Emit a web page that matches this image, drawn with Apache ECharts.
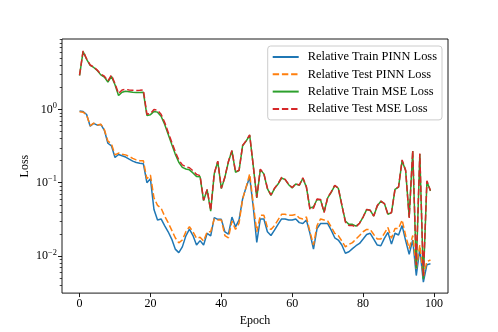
<!DOCTYPE html>
<html>
<head>
<meta charset="utf-8">
<script src="https://cdn.jsdelivr.net/npm/echarts@6/dist/echarts.min.js"></script>
<style>
html,body{margin:0;padding:0;background:#fff;}
#chart{width:498px;height:332px;}
</style>
</head>
<body>
<div id="chart"></div>
<script>
const epochs = [0,1,2,3,4,5,6,7,8,9,10,11,12,13,14,15,16,17,18,19,20,21,22,23,24,25,26,27,28,29,30,31,32,33,34,35,36,37,38,39,40,41,42,43,44,45,46,47,48,49,50,51,52,53,54,55,56,57,58,59,60,61,62,63,64,65,66,67,68,69,70,71,72,73,74,75,76,77,78,79,80,81,82,83,84,85,86,87,88,89,90,91,92,93,94,95,96,97,98,99];

const trainPinn = [0.95,0.94,0.855,0.59,0.645,0.61,0.625,0.52,0.346,0.319,0.221,0.243,0.233,0.224,0.21,0.197,0.189,0.184,0.182,0.1,0.113,0.043,0.031,0.032,0.026,0.0214,0.017,0.0124,0.0111,0.0133,0.0188,0.0232,0.019,0.0141,0.0162,0.0141,0.0204,0.0188,0.0334,0.0316,0.0316,0.0214,0.0199,0.034,0.025,0.031,0.06,0.087,0.119,0.047,0.0153,0.032,0.032,0.0214,0.019,0.0225,0.027,0.032,0.032,0.031,0.031,0.032,0.0285,0.0277,0.031,0.0204,0.0124,0.0237,0.0277,0.0277,0.0277,0.0225,0.0177,0.0165,0.0141,0.0109,0.0114,0.0126,0.0138,0.0148,0.017,0.0196,0.0204,0.017,0.0141,0.0138,0.0174,0.021,0.0145,0.0204,0.0193,0.026,0.0162,0.0105,0.0165,0.0054,0.0126,0.0044,0.0076,0.0078];

const testPinn = [0.93,0.92,0.84,0.6,0.65,0.615,0.63,0.53,0.37,0.34,0.24,0.254,0.245,0.24,0.228,0.215,0.205,0.2,0.2,0.113,0.127,0.062,0.049,0.045,0.035,0.0285,0.0225,0.0177,0.0151,0.0165,0.0214,0.025,0.0214,0.0174,0.018,0.016,0.0214,0.0214,0.032,0.031,0.031,0.019,0.0177,0.03,0.023,0.028,0.06,0.087,0.132,0.052,0.0214,0.036,0.036,0.0245,0.023,0.026,0.031,0.037,0.037,0.036,0.036,0.037,0.033,0.032,0.034,0.0214,0.0141,0.026,0.032,0.031,0.03,0.025,0.0204,0.019,0.016,0.0133,0.0144,0.0152,0.017,0.019,0.0214,0.023,0.023,0.0196,0.017,0.017,0.0204,0.0245,0.0174,0.0237,0.0237,0.031,0.019,0.0126,0.019,0.0067,0.0141,0.0052,0.0084,0.0088];

const trainMse = [2.9,6.2,4.85,4.0,3.75,3.4,2.97,2.77,2.37,2.83,2.18,1.55,1.72,1.77,1.75,1.72,1.7,1.71,1.72,0.83,0.85,0.94,0.92,0.81,0.63,0.46,0.336,0.246,0.19,0.162,0.154,0.15,0.136,0.122,0.121,0.057,0.08,0.041,0.132,0.195,0.083,0.118,0.193,0.273,0.139,0.146,0.319,0.37,0.445,0.171,0.062,0.151,0.132,0.083,0.067,0.083,0.096,0.116,0.11,0.094,0.085,0.096,0.092,0.115,0.087,0.045,0.047,0.059,0.058,0.04,0.062,0.074,0.091,0.084,0.049,0.03,0.027,0.027,0.0255,0.028,0.034,0.043,0.042,0.035,0.048,0.056,0.052,0.037,0.039,0.081,0.087,0.2,0.146,0.034,0.27,0.0068,0.246,0.0048,0.104,0.077];

const testMse = [2.95,6.3,4.9,4.05,3.8,3.45,3.05,2.85,2.45,2.95,2.25,1.65,1.85,1.88,1.85,1.83,1.82,1.83,1.85,0.86,0.88,1.0,0.98,0.86,0.67,0.49,0.36,0.265,0.205,0.175,0.166,0.16,0.146,0.13,0.125,0.058,0.081,0.042,0.134,0.197,0.084,0.12,0.195,0.275,0.141,0.148,0.322,0.375,0.45,0.173,0.063,0.153,0.134,0.084,0.068,0.084,0.097,0.118,0.111,0.095,0.086,0.097,0.093,0.117,0.088,0.043,0.045,0.06,0.059,0.039,0.063,0.075,0.092,0.085,0.05,0.029,0.026,0.026,0.025,0.028,0.034,0.043,0.042,0.035,0.049,0.056,0.052,0.037,0.039,0.082,0.088,0.205,0.148,0.033,0.275,0.0075,0.25,0.0052,0.106,0.078];

const xTicks = [0,20,40,60,80,100];
const yMajor = [0.01,0.1,1];
const yMinor = [0.004,0.005,0.006,0.007,0.008,0.009,0.02,0.03,0.04,0.05,0.06,0.07,0.08,0.09,0.2,0.3,0.4,0.5,0.6,0.7,0.8,0.9,2,3,4,5,6,7,8,9];
const seriesNames = ['Relative Train PINN Loss','Relative Test PINN Loss','Relative Train MSE Loss','Relative Test MSE Loss'];
const colors = ['#1f77b4','#ff7f0e','#2ca02c','#d62728'];

const FONT = '"Liberation Serif", "Times New Roman", "DejaVu Serif", serif';
const chart = echarts.init(document.getElementById('chart'), null, {renderer:'canvas'});

function pairs(arr){ return arr.map((v,i)=>[epochs[i], v]); }
const allData = [trainPinn, testPinn, trainMse, testMse];
const dashed = [false, true, false, true];

const yMin = 0.00311, yMax = 9.17;

const option = {
  animation: false,
  backgroundColor: '#fff',
  textStyle: {fontFamily: FONT},
  grid: {left: 62, right: 50, top: 39, bottom: 37, show: true, borderColor: '#000', borderWidth: 0.9, containLabel: false},
  legend: {
    orient: 'vertical', right: 56, top: 46,
    itemWidth: 26, itemHeight: 10, itemGap: 3.3,
    padding: [4, 5, 4, 4],
    backgroundColor: 'rgba(255,255,255,0.8)',
    borderColor: '#cccccc', borderWidth: 1, borderRadius: 3,
    itemStyle: {opacity: 0},
    textStyle: {fontFamily: FONT, fontSize: 12.4, color: '#000', lineHeight: 14, padding: [0,0,0,4]},
    data: seriesNames
  },
  xAxis: {
    type: 'value', min: -4.95, max: 103.95,
    name: 'Epoch', nameLocation: 'middle', nameGap: 19,
    nameTextStyle: {fontFamily: FONT, fontSize: 12, color: '#000'},
    axisLine: {show: false, onZero: false},
    axisTick: {show: true, length: 4, lineStyle: {color: '#000', width: 0.9}, customValues: xTicks},
    axisLabel: {fontFamily: FONT, fontSize: 12, color: '#000', margin: 5, customValues: xTicks},
    splitLine: {show: false}
  },
  yAxis: [{
    type: 'log', logBase: 10, min: yMin, max: yMax,
    name: 'Loss', nameLocation: 'middle', nameGap: 31, nameMoveOverlap: false,
    nameTextStyle: {fontFamily: FONT, fontSize: 12, color: '#000'},
    axisLine: {show: false, onZero: false},
    axisTick: {show: true, length: 4, lineStyle: {color: '#000', width: 0.9}, customValues: yMajor},
    axisLabel: {
      margin: 5, customValues: yMajor, color: '#000',
      formatter: function(v){
        const e = Math.round(Math.log10(v));
        return '{b|10}{s|' + (e < 0 ? '\u2212' + (-e) : String(e)) + '}';
      },
      rich: {
        b: {fontFamily: FONT, fontSize: 12, color: '#000'},
        s: {fontFamily: FONT, fontSize: 8.4, color: '#000', verticalAlign: 'top', padding: [0,0,7,0]}
      }
    },
    splitLine: {show: false}
  },{
    type: 'log', logBase: 10, min: yMin, max: yMax, position: 'left',
    axisLine: {show: false, onZero: false},
    axisTick: {show: true, length: 2.3, lineStyle: {color: '#000', width: 0.7}, customValues: yMinor},
    axisLabel: {show: false},
    splitLine: {show: false}
  }],
  series: allData.map((d, k) => ({
    name: seriesNames[k], type: 'line', yAxisIndex: 0,
    data: pairs(d), symbol: 'none', showSymbol: false,
    lineStyle: {color: colors[k], width: 1.5, type: dashed[k] ? [6.4, 2.8] : 'solid'},
    itemStyle: {color: colors[k]},
    z: 2 + k
  }))
};
chart.setOption(option);
</script>
</body>
</html>
